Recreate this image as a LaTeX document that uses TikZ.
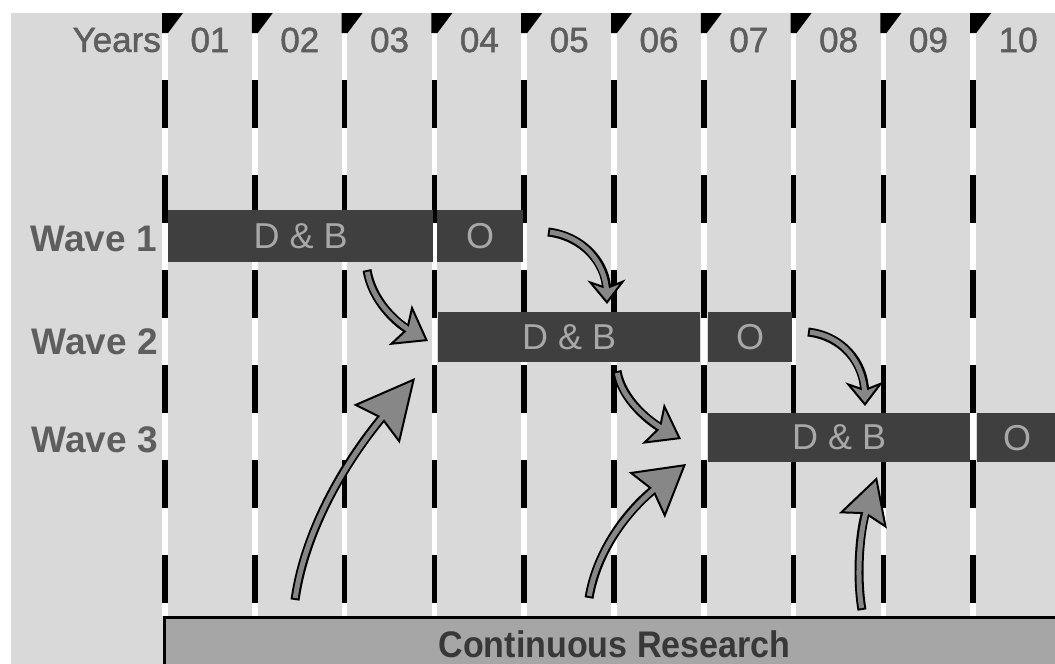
\documentclass[tikz,border=0pt]{standalone}
\usepackage{fontspec}
\setmainfont{Liberation Sans}
\newfontfamily\condsans[FakeStretch=0.92]{Liberation Sans}
\newfontfamily\semisans[FakeBold=1.4]{Liberation Sans}
\usetikzlibrary{arrows.meta}
\definecolor{WPCanvas}{HTML}{FFFFFF}
\definecolor{WPBack}{HTML}{D9D9D9}
\definecolor{WPBar}{HTML}{3F3F3F}
\definecolor{WPBarText}{HTML}{A8A8A8}
\definecolor{WPLabel}{HTML}{5E5E5E}
\definecolor{WPArrow}{HTML}{878787}
\definecolor{WPResearch}{HTML}{A6A6A6}
\definecolor{WPResearchText}{HTML}{383838}
\tikzset{
  gridwhite/.style={white,line width=5.5pt},
  griddash/.style={black,line width=5.5pt,dash pattern=on 48pt off 47pt},
  flag/.style={fill=black},
  yearlabel/.style={text=WPLabel,font=\fontsize{35}{38}\selectfont\semisans,inner sep=0pt},
  wavelabel/.style={text=WPLabel,font=\fontsize{37}{40}\selectfont\bfseries,
                    inner sep=0pt,anchor=east},
  bar/.style={fill=WPBar,text=WPBarText,inner sep=0pt,anchor=north west,
              font=\fontsize{36}{38}\selectfont},
  research/.style={draw=black,line width=3pt,fill=WPResearch,text=WPResearchText,
                   inner sep=0pt,anchor=north west,
                   font=\fontsize{37}{40}\selectfont\condsans\bfseries},
  arrowbody/.style={draw=black,line width=9pt},
  arrowcore/.style={draw=WPArrow,line width=5pt,shorten <=2pt},
  arrowtip/.style 2 args={draw=WPArrow,line width=2pt,shorten <=2pt,
    -{Stealth[length=#1,width=#2,inset=7pt,fill=WPArrow,color=black]}},
}
% body, head, then inner body over the head notch
\newcommand{\bentarrow}[6]{%
  \draw[arrowbody,shorten >=#5-10pt] (#1) .. controls (#2) and (#3) .. (#4);
  \draw[arrowtip={#5}{#6}] (#1) .. controls (#2) and (#3) .. (#4);
  \draw[arrowcore,shorten >=#5-14pt] (#1) .. controls (#2) and (#3) .. (#4);}

\begin{document}
\begin{tikzpicture}[x=1pt,y=-1pt]
  \useasboundingbox (0,0) rectangle (1055,664);
  \clip (0,0) rectangle (1055,664);
  \fill[WPCanvas] (0,0) rectangle (1055,664);
  \fill[WPBack] (11,13) rectangle (1055,664);

  % year grid
  \foreach \yr [count=\i from 0] in {01,02,03,04,05,06,07,08,09,10} {
    \draw[gridwhite] (165+89.8*\i,13) -- (165+89.8*\i,616);
    \draw[griddash] (165+89.8*\i,80) -- (165+89.8*\i,616);
    \fill[flag] (162+89.8*\i,13) -- (183+89.8*\i,13) -- (168+89.8*\i,33)
      -- (162+89.8*\i,33) -- cycle;
    \node[yearlabel] (yr\yr) at (210+89.8*\i,40) {\yr};
  }
  \node[yearlabel,anchor=east] (years) at (161,40) {Years};

  \node[wavelabel] (wave1) at (157,239) {Wave 1};
  \node[wavelabel] (wave2) at (158,342) {Wave 2};
  \node[wavelabel] (wave3) at (158,440) {Wave 3};

  \node[bar,minimum width=265pt,minimum height=52pt] (w1db) at (168,210) {D \& B};
  \node[bar,minimum width=86pt,minimum height=52pt] (w1o) at (437,210) {O};
  \node[bar,minimum width=262pt,minimum height=50pt] (w2db) at (438,312) {D \& B};
  \node[bar,minimum width=84pt,minimum height=50pt] (w2o) at (708,312) {O};
  \node[bar,minimum width=262pt,minimum height=49pt] (w3db) at (708,413) {D \& B};
  \node[bar,minimum width=80pt,minimum height=49pt] (w3o) at (977,413) {O};

  \node[research,minimum width=900pt,minimum height=54pt] (cres) at (163,616)
    {Continuous Research};

  % arrow ends
  \coordinate (r1s) at (367,270);  \coordinate (r1e) at (428,341);
  \coordinate (r2s) at (548,232);  \coordinate (r2e) at (607,304);
  \coordinate (r3s) at (617,371);  \coordinate (r3e) at (681,439);
  \coordinate (r4s) at (808,332);  \coordinate (r4e) at (865,406);
  \coordinate (c1s) at (295,600);  \coordinate (c1e) at (415,378);
  \coordinate (c2s) at (589,598);  \coordinate (c2e) at (686,464);
  \coordinate (c3s) at (862,610);  \coordinate (c3e) at (877,477);

  \bentarrow{r1s}{372,300}{395,322}{r1e}{32pt}{46pt}
  \bentarrow{r2s}{582,236}{606,262}{r2e}{24pt}{38pt}
  \bentarrow{r3s}{622,400}{650,422}{r3e}{32pt}{46pt}
  \bentarrow{r4s}{842,336}{864,362}{r4e}{24pt}{38pt}
  \bentarrow{c1s}{305,530}{345,462}{c1e}{60pt}{60pt}
  \bentarrow{c2s}{597,550}{628,510}{c2e}{50pt}{58pt}
  \bentarrow{c3s}{856,575}{860,530}{c3e}{46pt}{50pt}
\end{tikzpicture}
\end{document}
